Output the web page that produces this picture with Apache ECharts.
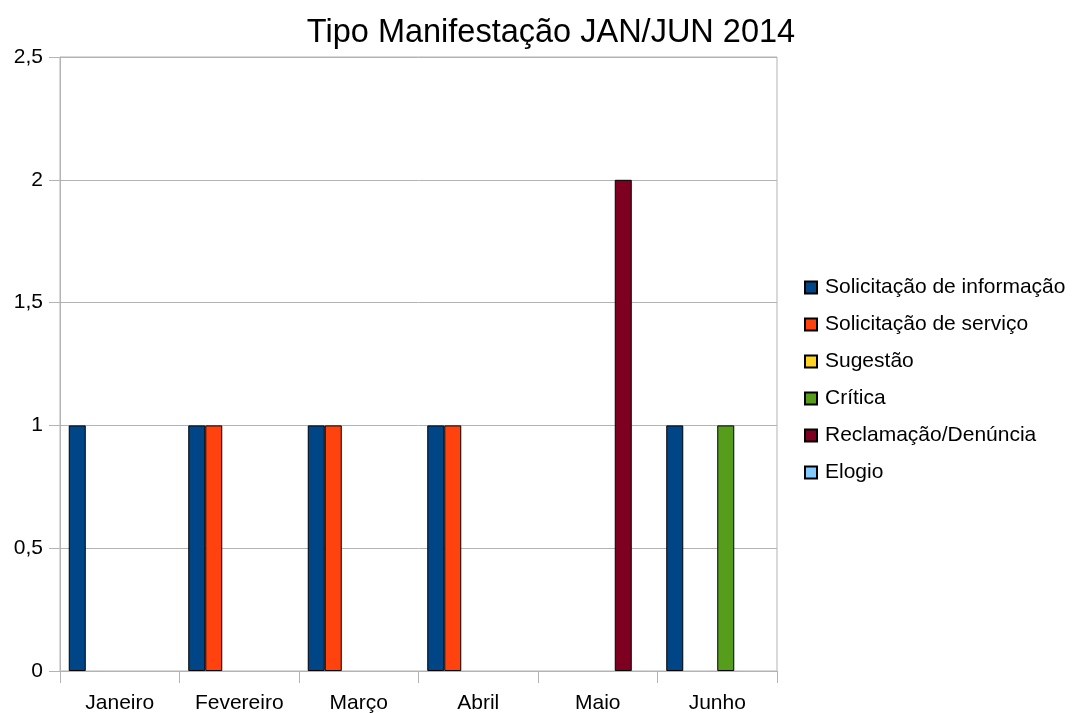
<!DOCTYPE html>
<html>
<head>
<meta charset="utf-8">
<script src="https://cdn.jsdelivr.net/npm/echarts@6/dist/echarts.min.js"></script>
<style>html,body{margin:0;padding:0;background:#fff}#c{width:1074px;height:713px}</style>
</head>
<body>
<div id="c"></div>
<script>
const categories = ['Janeiro', 'Fevereiro', 'Março', 'Abril', 'Maio', 'Junho'];
const seriesNames = ['Solicitação de informação', 'Solicitação de serviço', 'Sugestão', 'Crítica', 'Reclamação/Denúncia', 'Elogio'];
const solicitacaoInformacao = [1, 1, 1, 1, 0, 1];
const solicitacaoServico = [0, 1, 1, 1, 0, 0];
const sugestao = [0, 0, 0, 0, 0, 0];
const critica = [0, 0, 0, 0, 0, 1];
const reclamacaoDenuncia = [0, 0, 0, 0, 2, 0];
const elogio = [0, 0, 0, 0, 0, 0];
const yTicks = [0, 0.5, 1, 1.5, 2, 2.5];

const colors = ['#004586', '#ff420e', '#ffd320', '#579d1c', '#7e0021', '#83caff'];
const values = [solicitacaoInformacao, solicitacaoServico, sugestao, critica, reclamacaoDenuncia, elogio];

const chart = echarts.init(document.getElementById('c'), null, {renderer: 'canvas'});
const font = '"Liberation Sans", Arial, sans-serif';
chart.setOption({
  animation: false,
  color: colors,
  title: {
    text: 'Tipo Manifestação JAN/JUN 2014',
    left: 546, top: 12, textAlign: 'center',
    textStyle: {fontFamily: font, fontSize: 32.5, fontWeight: 'normal', color: '#000'}
  },
  legend: {
    orient: 'vertical', left: 799, top: 272,
    itemWidth: 12, itemHeight: 12, itemGap: 16,
    icon: 'rect',
    textStyle: {fontFamily: font, fontSize: 21, color: '#000', lineHeight: 21, padding: [0, 0, 0, 3]},
    data: seriesNames
  },
  grid: {left: 60, right: 297, top: 57, bottom: 42, show: true, borderColor: '#b3b3b3', borderWidth: 1,
    containLabel: false, outerBoundsMode: 'none'},
  xAxis: {
    type: 'category', data: categories,
    axisLine: {lineStyle: {color: '#b3b3b3'}},
    axisTick: {show: true, length: 12, lineStyle: {color: '#b3b3b3'}},
    axisLabel: {fontFamily: font, fontSize: 21, color: '#000', margin: 22}
  },
  yAxis: {
    type: 'value', min: yTicks[0], max: yTicks[yTicks.length - 1], interval: 0.5,
    axisLine: {show: true, lineStyle: {color: '#b3b3b3'}},
    axisTick: {show: true, length: 11, lineStyle: {color: '#b3b3b3'}},
    splitLine: {lineStyle: {color: '#b3b3b3'}},
    axisLabel: {fontFamily: font, fontSize: 21, color: '#000', margin: 17,
      formatter: v => String(v).replace('.', ',')}
  },
  series: seriesNames.map((n, i) => ({
    name: n, type: 'bar', barWidth: 17, barGap: '0%',
    itemStyle: {color: colors[i], borderColor: '#000', borderWidth: 1},
    data: values[i].map(v => v === 0 ? null : v)
  }))
});
</script>
</body>
</html>
